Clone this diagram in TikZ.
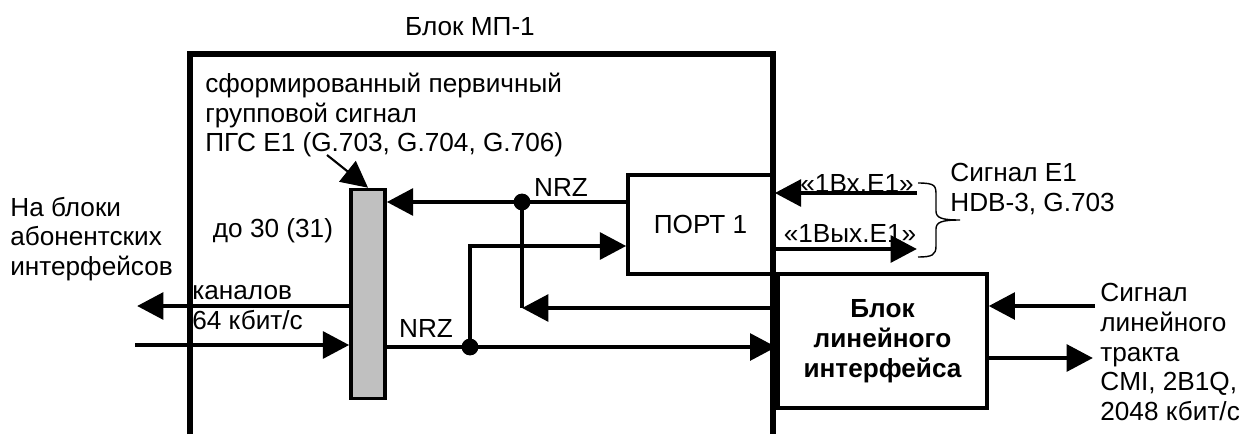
\documentclass[tikz,border=0pt]{standalone}
\usepackage{fontspec}
\setmainfont{Liberation Sans}
\usepackage{tikz}
\usetikzlibrary{arrows.meta}
\definecolor{bargray}{RGB}{192,192,192}

\begin{document}
\begin{tikzpicture}[x=0.02cm,y=-0.02cm,>={Triangle[length=15pt,width=15pt]},
  font=\fontsize{14.9}{17}\selectfont,
  every node/.style={inner sep=0pt},
  sig/.style={line width=2.8pt},
  blockbox/.style={draw,line width=2.3pt},
  junction/.style={fill}]
\useasboundingbox (0,0) rectangle (1242,434);
% frame of the unit
\draw[line width=3.4pt] (190,434) -- (190,54) -- (773,54) -- (773,434);
\node (title) at (470,27) {Блок МП-1};
\node[blockbox,minimum width=82.2pt,minimum height=56.1pt] (port) at (700.5,224.5) {ПОРТ 1};
\node[blockbox,minimum width=118.5pt,minimum height=76pt,align=center,
  font=\fontsize{14.9}{17}\selectfont\bfseries] (lin) at (882.5,341) {Блок\\линейного\\интерфейса};
\node[draw,line width=2pt,fill=bargray,minimum width=19.3pt,minimum height=119pt] (bar) at (368,294) {};
% labels
\node[anchor=west,align=left] (pgs) at (205,115) {сформированный первичный\\групповой сигнал\\ПГС Е1 (G.703, G.704, G.706)};
\node[anchor=west,align=left] (abon) at (10,239) {На блоки\\абонентских\\интерфейсов};
\node (chan) at (273,231) {до 30 (31)};
\node[anchor=west,align=left] (rate) at (192,308) {каналов\\64 кбит/с};
\node (nrzA) at (561,187) {NRZ};
\node (nrzB) at (426,328) {NRZ};
\node (inlab) at (857,183) {«1Вх.Е1»};
\node (outlab) at (850,233) {«1Вых.Е1»};
\node[anchor=west,align=left] (e1sig) at (950,189) {Сигнал Е1\\HDB-3, G.703};
\node[anchor=west,align=left] (linsig) at (1100,352) {Сигнал\\линейного\\тракта\\CMI, 2B1Q,\\2048 кбит/с};
% points
\coordinate (j1) at (522,202);
\coordinate (k1) at (522,308);
\coordinate (j2) at (470,347);
\coordinate (k2) at (470,246);
\coordinate (pgsend) at (327,155);
\coordinate (subout) at (137,306);
\coordinate (subin) at (135,345);
\coordinate (e1in) at (917,193);
\coordinate (e1out) at (917,249);
\coordinate (linin) at (1095,306);
\coordinate (linout) at (1093,358);
% signals
\draw[->,line width=1.2pt] (pgsend) -- (bar.north);
\draw[sig,->] (port.west |- j1) -- (bar.east |- j1);
\draw[sig] (j1) -- (k1);
\draw[sig,->] (lin.west |- k1) -- (k1);
\draw[sig] (bar.east |- j2) -- (j2);
\draw[sig,->] (j2) -- (lin.west |- j2);
\draw[sig,->] (j2) -- (k2) -- (port.west |- k2);
\fill[junction] (j1) circle (4.8pt);
\fill[junction] (j2) circle (4.8pt);
\draw[sig,->] (bar.west |- subout) -- (subout);
\draw[sig,->] (subin) -- (bar.west |- subin);
\draw[sig,->] (e1in) -- (port.east |- e1in);
\draw[sig,->] (port.east |- e1out) -- (e1out);
\draw[sig,->] (linin) -- (lin.east |- linin);
\draw[sig,->] (lin.east |- linout) -- (linout);
% brace
\draw[line width=0.8pt] (918,183) .. controls (936,183) and (936,186) .. (936,196) -- (936,211)
  .. controls (936,218) and (942,220) .. (960,220) .. controls (942,220) and (936,222) .. (936,229)
  -- (936,246) .. controls (936,255) and (932,257) .. (918,257);
\end{tikzpicture}
\end{document}
